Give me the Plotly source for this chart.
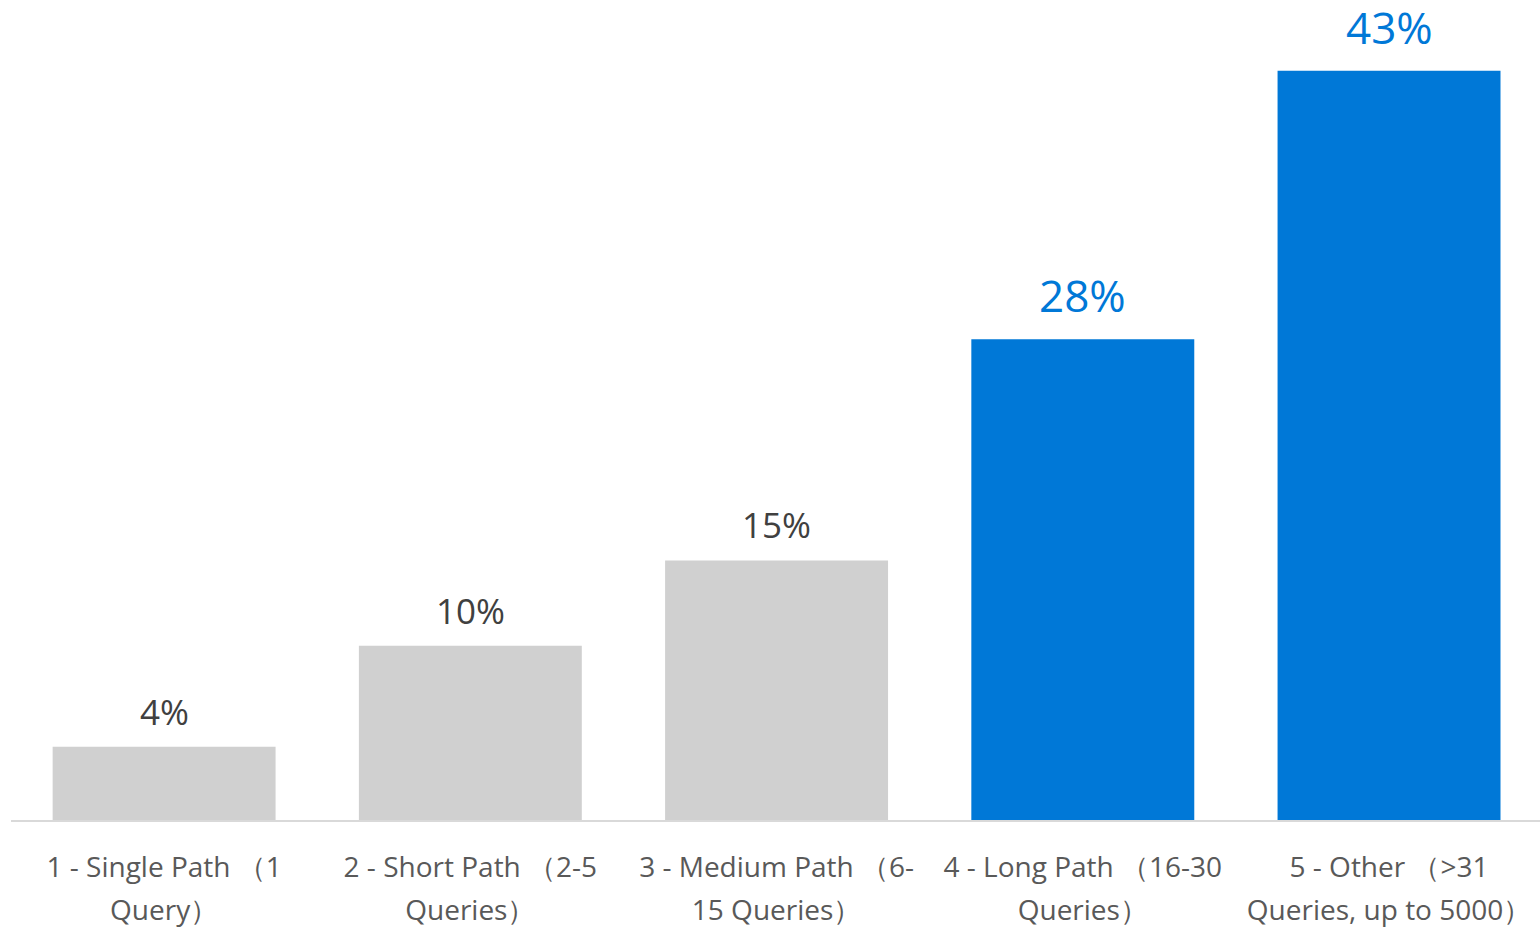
import plotly.graph_objects as go

categories_line1 = ["1 - Single Path （1", "2 - Short Path （2-5", "3 - Medium Path （6-",
                    "4 - Long Path （16-30", "5 - Other （>31"]
categories_line2 = ["Query）", "Queries）", "15 Queries）", "Queries）", "Queries, up to 5000）"]
values = [4.2, 10.0, 14.9, 27.6, 43.0]
highlight = [False, False, False, True, True]

GRAY = "#D0D0D0"
BLUE = "#0078D7"
FONT = "Open Sans"

tick_text = [f'<span style="font-size:28px">{a}</span><br><span style="font-size:28px">{b}</span>'
             for a, b in zip(categories_line1, categories_line2)]
xs = list(range(len(values)))

fig = go.Figure()
fig.add_trace(go.Bar(
    x=xs, y=values,
    marker=dict(color=[BLUE if h else GRAY for h in highlight], line=dict(width=0)),
    width=0.728,
    hoverinfo="skip",
))

for x, v, h in zip(xs, values, highlight):
    if h:
        fig.add_annotation(
            x=x, y=v, xref="x", yref="y",
            text=f"{v:.0f}%",
            showarrow=False, yanchor="bottom", valign="middle",
            height=46, yshift=19,
            font=dict(family=FONT, size=44, color=BLUE),
        )
    else:
        fig.add_annotation(
            x=x, y=v, xref="x", yref="y",
            text=f"{v:.0f}%",
            showarrow=False, yanchor="bottom",
            yshift=10,
            font=dict(family=FONT, size=35, color="#404040"),
        )

fig.update_layout(
    width=1540, height=929,
    margin=dict(l=11, r=0, t=36, b=109),
    paper_bgcolor="white", plot_bgcolor="white",
    showlegend=False,
    xaxis=dict(
        range=[-0.5, 4.493],
        tickmode="array", tickvals=xs, ticktext=tick_text,
        tickfont=dict(family=FONT, size=33, color="#595959"),
        ticklabelstandoff=15,
        showline=True, linecolor="#D9D9D9", linewidth=2,
        showgrid=False, zeroline=False, ticks="",
    ),
    yaxis=dict(range=[0, 45], visible=False, showgrid=False, zeroline=False),
)

fig.write_html("out.html")
